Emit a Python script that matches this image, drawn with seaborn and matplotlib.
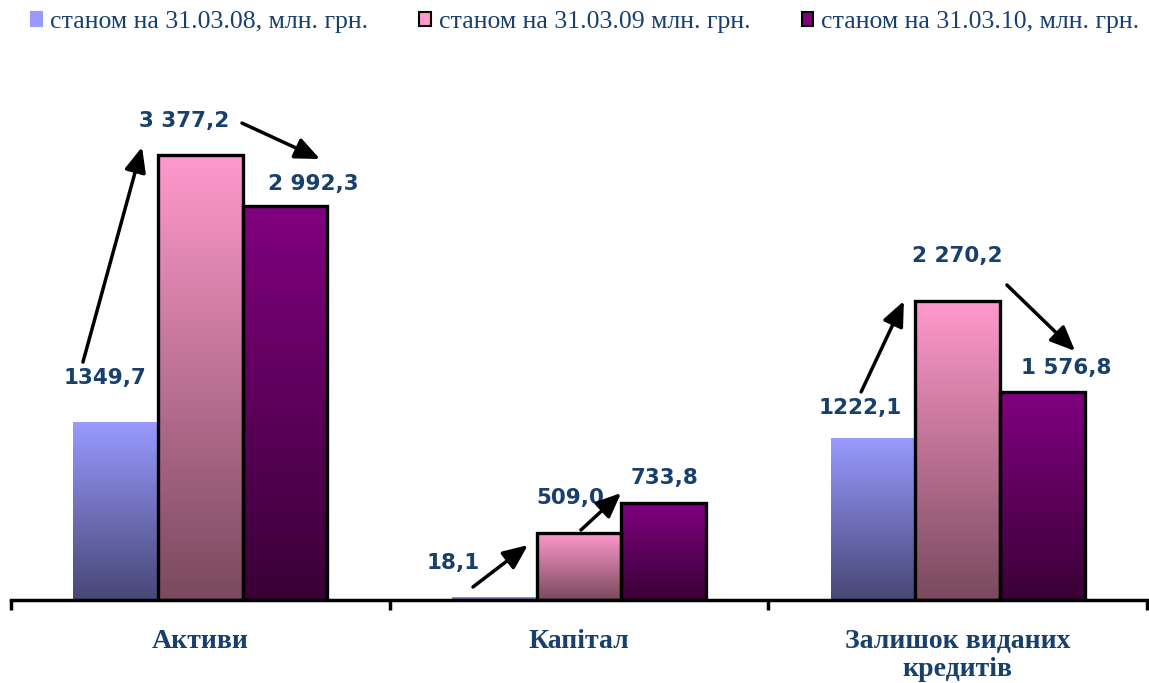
import numpy as np
import pandas as pd
import matplotlib
matplotlib.use("Agg")
import matplotlib.pyplot as plt
from matplotlib.colors import LinearSegmentedColormap
from matplotlib.patches import Patch
import seaborn as sns

sns.set_style("white")
plt.rcParams['font.family'] = ['DejaVu Sans']

# data
categories = ['Активи', 'Капітал', 'Залишок виданих\nкредитів']
periods = ['станом на 31.03.08, млн. грн.', 'станом на 31.03.09 млн. грн.', 'станом на 31.03.10, млн. грн.']
val_08 = [1349.7, 18.1, 1222.1]
val_09 = [3377.2, 509.0, 2270.2]
val_10 = [2992.3, 733.8, 1576.8]
labels_08 = ['1349,7', '18,1', '1222,1']
labels_09 = ['3 377,2', '509,0', '2 270,2']
labels_10 = ['2 992,3', '733,8', '1 576,8']

df = pd.DataFrame({
    'cat': categories * 3,
    'period': [periods[0]] * 3 + [periods[1]] * 3 + [periods[2]] * 3,
    'value': val_08 + val_09 + val_10,
})

# (top colour, bottom colour, edge)
styles = [('#9999FF', '#474776', 'none'),
          ('#FF99CC', '#7A4A5E', 'black'),
          ('#800080', '#3A0036', 'black')]
text_blue = '#17406D'

fig = plt.figure(figsize=(11.49, 6.83), dpi=100)
ax = fig.add_axes([11 / 1149, 83 / 683, 1136 / 1149, 527 / 683])

sns.barplot(data=df, x='cat', y='value', hue='period', hue_order=periods,
            order=categories, width=0.67, legend=False, ax=ax, zorder=3)

# gradient fill for each bar
for cont, (top, bot, edge) in zip(ax.containers, styles):
    cmap = LinearSegmentedColormap.from_list('g', [bot, top])
    for bar in cont:
        x, w, h = bar.get_x(), bar.get_width(), bar.get_height()
        grad = np.linspace(1, 0, 100).reshape(-1, 1)
        ax.imshow(grad, extent=[x, x + w, 0, h], aspect='auto', cmap=cmap,
                  vmin=0, vmax=1, zorder=2)
        bar.set_facecolor('none')
        bar.set_edgecolor(edge)
        bar.set_linewidth(2.4 if edge != 'none' else 0)

ax.set_xlim(-0.5, 2.5)
ax.set_ylim(0, 4000)

# value labels and arrows (positions in data units)
label_pos = [(-0.252, 1685), (0.667, 281), (1.742, 1457),
             (-0.043, 3636), (0.976, 774), (1.998, 2611),
             (0.2975, 3157), (1.227, 926), (2.288, 1761)]
all_labels = labels_08 + labels_09 + labels_10
for (lx, ly), t in zip(label_pos, all_labels):
    ax.text(lx, ly, t, ha='center', va='center', fontsize=15.5,
            fontweight='bold', color=text_blue, zorder=5)

arrows = [((-0.310, 1806), (-0.154, 3438)), ((0.110, 3620), (0.316, 3347)),
          ((0.720, 99), (0.865, 417)), ((1.005, 531), (1.111, 812)),
          ((1.745, 1579), (1.858, 2269)), ((2.130, 2391), (2.310, 1890))]
for tail, tip in arrows:
    ax.annotate('', xy=tip, xytext=tail,
                arrowprops=dict(arrowstyle='-|>,head_length=1.5,head_width=0.65',
                                color='black', lw=2.5, shrinkA=0, shrinkB=0),
                zorder=6)

# axes styling
sns.despine(ax=ax, left=True, top=True, right=True)
ax.spines['bottom'].set_linewidth(2.5)
ax.spines['bottom'].set_color('black')
ax.spines['bottom'].set_zorder(4)
ax.set_yticks([])
ax.set_xlabel('')
ax.set_ylabel('')
ax.set_xticks([0, 1, 2])
ax.set_xticklabels(categories, fontfamily='Liberation Serif', fontweight='bold',
                   fontsize=20, color=text_blue, linespacing=1.15)
ax.set_xticks([-0.5, 0.5, 1.5, 2.5], minor=True)
ax.tick_params(axis='x', which='major', length=0, pad=21)
ax.tick_params(axis='x', which='minor', length=7, width=2.5, color='black',
               direction='out', bottom=True)

# legend
handles = [Patch(facecolor=s[0], edgecolor=('black' if s[2] != 'none' else s[0]),
                 linewidth=1.5) for s in styles]
fig.legend(handles, periods, loc='center', bbox_to_anchor=(0.509, 1 - 22 / 683),
           ncol=3, frameon=False, handlelength=0.45, handleheight=0.45,
           handletextpad=0.3, columnspacing=2.0,
           prop={'family': 'Liberation Serif', 'size': 18.5}, labelcolor=text_blue)

fig.savefig('out.png', dpi=100)
